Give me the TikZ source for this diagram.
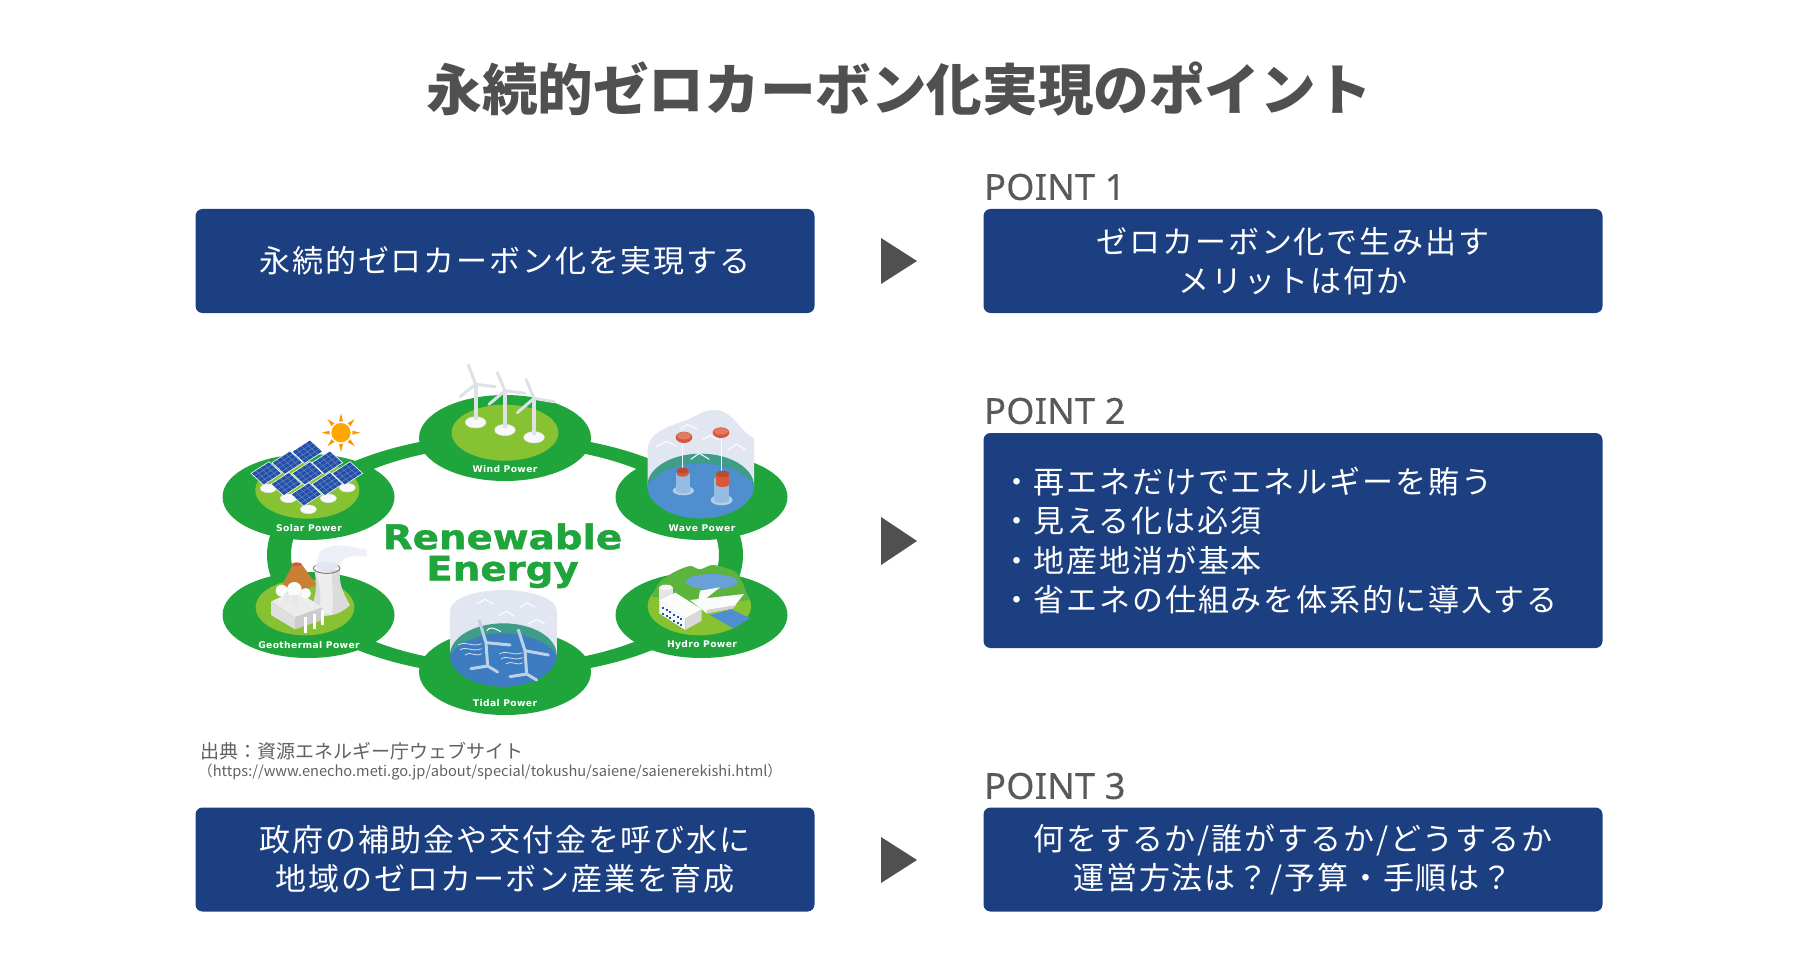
\documentclass[tikz,border=0pt]{standalone}
\usepackage{fontspec}
\usepackage{xcolor}
\setmainfont{Noto Sans CJK JP}
\newfontfamily\spacedcjk[LetterSpace=6]{Noto Sans CJK JP}
\newfontfamily\tilefont[LetterSpace=4]{DejaVu Sans}
\newfontfamily\bannerfont[FakeBold=1.2]{DejaVu Sans Bold}
\newfontfamily\pointfont[FakeBold=0.5,LetterSpace=1]{Noto Sans}
\usetikzlibrary{calc,positioning}
\definecolor{navybox}{HTML}{1B3F80}
\definecolor{inkgray}{HTML}{505050}
\definecolor{ringgreen}{HTML}{20A53C}
\definecolor{limegreen}{HTML}{86C232}
\definecolor{hillgreen}{HTML}{5DB43C}
\definecolor{millgray}{HTML}{DEE2E7}
\definecolor{mistblue}{HTML}{E1E6F1}
\definecolor{waterblue}{HTML}{4F8FD0}
\definecolor{deepblue}{HTML}{3D7CC0}
\definecolor{waterteal}{HTML}{3F9C88}
\definecolor{panelblue}{HTML}{2350A8}
\definecolor{buoyred}{HTML}{D8593A}
\tikzset{
	pointbox/.style={fill=navybox,rounded corners=7pt,text=white,inner sep=0pt,minimum width=619pt,align=center,font=\fontsize{31}{39.5}\selectfont\spacedcjk},
	pointhead/.style={anchor=west,inner sep=0pt,text=inkgray!95,font=\fontsize{36}{38}\selectfont\pointfont},
	tilelabel/.style={text=white,inner sep=0pt,font=\fontsize{9.2}{10}\selectfont\tilefont\bfseries},
	crop/.style 2 args={shift={(#1,#2)},x=0.33333pt,y=-0.33333pt},
	millbase/.style={fill=white!80!millgray,draw=millgray,line width=0.6pt},
	blade/.style={draw=millgray,line width=3pt,line cap=round},
	chevron/.style={draw=white,line width=1pt},
	arrowmark/.style={fill=inkgray}
}
\newcommand{\solarpanel}[2]{
	\begin{scope}[shift={(#1,#2)}]
		\fill[panelblue] (-44,0) -- (10,-35) -- (48,0) -- (-6,35) -- cycle;
		\foreach \t in {0.25,0.5,0.75} {
			\draw[white!35!panelblue,line width=0.4pt] ($(-44,0)!\t!(10,-35)$) -- ($(-6,35)!\t!(48,0)$);
			\draw[white!35!panelblue,line width=0.4pt] ($(-44,0)!\t!(-6,35)$) -- ($(10,-35)!\t!(48,0)$);
		}
		\draw[white,line width=0.6pt] (-44,0) -- (10,-35) -- (48,0) -- (-6,35) -- cycle;
	\end{scope}
}
\newcommand{\windmill}[9]{
	\fill[millbase] (#1,#3+6) ellipse [x radius=31,y radius=17];
	\draw[millgray,line width=4pt] (#1,#2) -- (#1,#3);
	\draw[blade] (#1,#2) -- (#4,#5);
	\draw[blade] (#1,#2) -- (#6,#7);
	\draw[blade] (#1,#2) -- (#8,#9);
}
\newcommand{\tidalmill}[8]{
	\draw[white!65!deepblue,line width=3pt] (#1,#2) -- (#1+5,#2+70);
	\draw[white!65!deepblue,line width=3pt,line cap=round] (#1+5,#2+70) -- (#1-45,#2+78);
	\draw[white!65!deepblue,line width=3pt,line cap=round] (#1+5,#2+70) -- (#1+35,#2+88);
	\draw[white!65!deepblue,line width=3pt,line cap=round] (#1,#2) -- (#3,#4);
	\draw[white!65!deepblue,line width=3pt,line cap=round] (#1,#2) -- (#5,#6);
	\draw[white!75!deepblue,line width=0.8pt] (#7,#8) .. controls (#7+25,#8-14) and (#7+40,#8+8) .. (#7+70,#8-4);
	\draw[white!75!deepblue,line width=0.8pt] (#7+5,#8+15) .. controls (#7+25,#8+1) and (#7+40,#8+23) .. (#7+70,#8+11);
	\draw[white!75!deepblue,line width=0.8pt] (#7+20,#8+30) .. controls (#7+35,#8+16) and (#7+50,#8+38) .. (#7+70,#8+26);
}
\begin{document}
\begin{tikzpicture}[x=1pt,y=-1pt]
	\useasboundingbox (0,0) rectangle (1800,960);
	\node[inner sep=0pt,text=inkgray,font=\fontsize{55.6}{60}\selectfont\bfseries] (title) at (899,89) {永続的ゼロカーボン化実現のポイント};
	% left column
	\node[pointbox,minimum height=104pt] (goalbox) at (505,261) {永続的ゼロカーボン化を実現する};
	\node[pointbox,minimum height=104pt] (fundbox) at (505,859.5) {政府の補助金や交付金を呼び水に\\地域のゼロカーボン産業を育成};
	\node[anchor=west,inner sep=0pt,text=inkgray!90,font=\fontsize{19}{22}\selectfont] (source) at (200,751) {出典：資源エネルギー庁ウェブサイト};
	\node[anchor=west,inner sep=0pt,text=inkgray!90,font=\fontsize{14.6}{18}\selectfont] (sourceurl) at (198,772) {（https://www.enecho.meti.go.jp/about/special/tokushu/saiene/saienerekishi.html）};
	% right column
	\node[pointhead] (headone) at (984,187) {POINT 1};
	\node[pointbox,minimum height=104pt] (boxone) at (1293,261) {ゼロカーボン化で生み出す\\メリットは何か};
	\node[pointhead] (headtwo) at (984,411) {POINT 2};
	\node[pointbox,minimum height=215pt,text width=584pt,align=left] (boxtwo) at (1293,540.5) {・再エネだけでエネルギーを賄う\\・見える化は必須\\・地産地消が基本\\・省エネの仕組みを体系的に導入する};
	\node[pointhead] (headthree) at (984,786) {POINT 3};
	\node[pointbox,minimum height=104pt] (boxthree) at (1293,859.5) {何をするか/誰がするか/どうするか\\運営方法は？/予算・手順は？};
	% triangles
	\fill[arrowmark] (881,238) -- (917,261) -- (881,284) -- cycle;
	\fill[arrowmark] (881,517) -- (917,541) -- (881,565) -- cycle;
	\fill[arrowmark] (881,837) -- (917,860) -- (881,883) -- cycle;
	% ring and discs
	\fill[ringgreen,even odd rule] (505,555) ellipse [x radius=238,y radius=121] (505,555) ellipse [x radius=214,y radius=109];
	\fill[ringgreen] (505,438) ellipse [x radius=86,y radius=43];
	\fill[ringgreen] (308.5,497) ellipse [x radius=86,y radius=43];
	\fill[ringgreen] (701.5,497) ellipse [x radius=86,y radius=43];
	\fill[ringgreen] (308.5,615) ellipse [x radius=86,y radius=43];
	\fill[ringgreen] (701.5,615) ellipse [x radius=86,y radius=43];
	\fill[ringgreen] (505,672) ellipse [x radius=86,y radius=43];
	% solar
	\begin{scope}[crop={215}{410}]
		\fill[limegreen] (277,240) ellipse [x radius=156,y radius=86];
		\foreach \r in {0,45,...,315} {
			\fill[orange!85!yellow] ($(378,68)+(\r:34)+(\r+90:6)$) -- ($(378,68)+(\r:58)$) -- ($(378,68)+(\r:34)+(\r-90:6)$) -- cycle;
		}
		\fill[orange!70!yellow] (378,68) circle (29);
		\fill[millbase] (160,235) ellipse [x radius=24,y radius=13];
		\fill[millbase] (220,265) ellipse [x radius=24,y radius=13];
		\fill[millbase] (280,298) ellipse [x radius=24,y radius=13];
		\fill[millbase] (340,265) ellipse [x radius=24,y radius=13];
		\fill[millbase] (397,233) ellipse [x radius=24,y radius=13];
		\solarpanel{275}{125}
		\solarpanel{215}{158}
		\solarpanel{335}{158}
		\solarpanel{152}{190}
		\solarpanel{275}{190}
		\solarpanel{395}{190}
		\solarpanel{212}{222}
		\solarpanel{335}{222}
		\solarpanel{272}{253}
	\end{scope}
	% wind
	\begin{scope}[crop={410}{360}]
		\fill[limegreen] (285,218) ellipse [x radius=160,y radius=84];
		\windmill{197}{73}{181}{175}{15}{255}{80}{150}{110}
		\windmill{285}{92}{204}{262}{38}{345}{100}{237}{133}
		\windmill{372}{115}{226}{348}{58}{432}{125}{322}{158}
	\end{scope}
	% wave
	\begin{scope}[crop={610}{400}]
		\fill[mistblue] (113,258) -- (113,150) .. controls (113,100) and (170,80) .. (225,62) .. controls (260,50) and (280,28) .. (315,30) .. controls (370,32) and (385,90) .. (432,115) -- (432,258) -- cycle;
		\begin{scope}
			\clip (272,258) ellipse [x radius=160,y radius=97];
			\fill[waterteal] (100,150) rectangle (440,360);
			\fill[waterblue] (272,298) ellipse [x radius=172,y radius=108];
		\end{scope}
		\draw[white!85!millgray,line width=0.8pt] (218,112) -- (218,215);
		\draw[white!85!millgray,line width=0.8pt] (335,98) -- (335,225);
		\fill[white!55!waterblue] (220,272) ellipse [x radius=32,y radius=14];
		\fill[white!40!waterblue] (198,218) rectangle (240,272);
		\fill[white!40!waterblue] (220,272) ellipse [x radius=21,y radius=8];
		\fill[white!55!waterblue] (335,300) ellipse [x radius=33,y radius=16];
		\fill[white!40!waterblue] (312,235) rectangle (358,300);
		\fill[white!40!waterblue] (335,300) ellipse [x radius=23,y radius=8];
		\fill[buoyred] (200,212) rectangle (236,222);
		\fill[buoyred] (218,222) ellipse [x radius=18,y radius=8];
		\fill[buoyred!85!black] (218,212) ellipse [x radius=18,y radius=9];
		\fill[buoyred] (318,222) rectangle (358,252);
		\fill[buoyred] (338,252) ellipse [x radius=20,y radius=9];
		\fill[buoyred!85!black] (338,222) ellipse [x radius=20,y radius=10];
		\fill[buoyred] (222,112) ellipse [x radius=25,y radius=17];
		\fill[buoyred!80!white] (222,107) ellipse [x radius=21,y radius=11];
		\fill[buoyred] (333,98) ellipse [x radius=25,y radius=16];
		\fill[buoyred!80!white] (333,94) ellipse [x radius=21,y radius=10];
		\draw[chevron] (138,140) -- (170,124) -- (200,138);
		\draw[chevron] (212,88) -- (232,73) -- (262,88);
		\draw[chevron] (278,120) -- (300,106) -- (325,120);
		\draw[chevron] (352,152) -- (380,132) -- (408,150);
		\draw[chevron] (242,178) -- (268,160) -- (298,178);
	\end{scope}
	% geothermal
	\begin{scope}[crop={215}{530}]
		\fill[limegreen] (270,232) ellipse [x radius=148,y radius=84];
		\fill[brown!85!orange] (195,178) -- (235,100) -- (258,100) -- (305,165) -- (250,185) -- cycle;
		\fill[buoyred] (245,103) ellipse [x radius=15,y radius=6];
		\fill[mistblue!60!white] plot[smooth] coordinates {(305,100) (318,62) (365,46) (420,52) (455,60)} -- plot[smooth] coordinates {(455,80) (420,78) (390,85) (372,112)} -- cycle;
		\fill[gray!28] (297,118) .. controls (310,170) and (300,220) .. (280,240) .. controls (310,268) and (370,262) .. (405,225) .. controls (385,190) and (370,160) .. (375,118) -- cycle;
		\fill[gray!14] (300,118) .. controls (316,170) and (322,210) .. (310,250) -- (350,255) .. controls (358,200) and (350,160) .. (350,125) -- cycle;
		\draw[gray,line width=1pt] (335,115) ellipse [x radius=40,y radius=15];
		\fill[mistblue] (335,108) ellipse [x radius=34,y radius=12];
		\fill[gray!15] (168,215) -- (240,180) -- (322,232) -- (240,262) -- cycle;
		\fill[gray!25] (168,215) -- (240,262) -- (240,298) -- (168,255) -- cycle;
		\fill[gray!40] (240,262) -- (322,232) -- (322,270) -- (240,298) -- cycle;
		\draw[white,line width=2.4pt] (272,262) -- (272,308);
		\draw[white,line width=2.4pt] (298,252) -- (298,298);
		\draw[white,line width=2.4pt] (322,240) -- (322,285);
		\fill[white!85!mistblue] (200,182) circle (18);
		\fill[white!85!mistblue] (238,178) circle (22);
		\fill[white!85!mistblue] (272,190) circle (16);
		\fill[gray!18] (206,190) rectangle (222,220);
		\fill[gray!18] (232,195) rectangle (250,228);
	\end{scope}
	% hydro
	\begin{scope}[crop={610}{550}]
		\fill[limegreen] (268,168) ellipse [x radius=155,y radius=88];
		\fill[hillgreen] plot[smooth] coordinates {(125,140) (150,95) (195,65) (240,48) (270,58) (310,45) (375,65) (398,100) (418,150)} -- (300,165) -- cycle;
		\fill[waterblue!85!white] (305,95) ellipse [x radius=77,y radius=23];
		\fill[white!85!millgray] (270,122) -- (330,112) -- (285,148) -- (265,150) -- cycle;
		\fill[white!85!millgray] (240,150) -- (402,132) -- (368,175) -- (290,190) -- cycle;
		\fill[gray!35] (290,190) -- (368,175) -- (380,165) -- (290,180) -- cycle;
		\fill[waterblue] (300,195) -- (365,178) -- (420,205) -- (370,235) -- cycle;
		\fill[gray!20] (148,112) rectangle (188,152);
		\fill[gray!8] (168,112) ellipse [x radius=20,y radius=8];
		\fill[white!90!millgray] (148,152) -- (196,128) -- (275,178) -- (226,205) -- cycle;
		\fill[white!80!millgray] (148,152) -- (226,205) -- (226,240) -- (148,190) -- cycle;
		\fill[gray!30] (226,205) -- (275,178) -- (275,212) -- (226,240) -- cycle;
		\foreach \k in {0,1,...,5} {
			\fill[panelblue] (156+\k*11,170+\k*7) rectangle +(6,6);
			\fill[panelblue] (156+\k*11,188+\k*7) rectangle +(6,6);
		}
	\end{scope}
	% tidal
	\begin{scope}[crop={410}{580}]
		\fill[mistblue] (280,92) ellipse [x radius=160,y radius=62];
		\fill[mistblue] (120,92) rectangle (440,225);
		\draw[chevron] (200,72) -- (225,58) -- (250,72);
		\draw[chevron] (330,82) -- (352,68) -- (375,82);
		\draw[chevron] (265,108) -- (290,93) -- (312,108);
		\draw[chevron] (355,132) -- (380,118) -- (405,132);
		\begin{scope}
			\clip (280,225) ellipse [x radius=160,y radius=95];
			\fill[waterteal] (110,120) rectangle (450,330);
			\fill[deepblue] (280,265) ellipse [x radius=172,y radius=105];
		\end{scope}
		\draw[white,line width=1pt] (230,152) .. controls (240,140) and (250,142) .. (272,155);
		\tidalmill{228}{188}{208}{122}{300}{195}{145}{195}
		\tidalmill{345}{212}{325}{150}{415}{225}{268}{222}
	\end{scope}
	% tile labels
	\node[tilelabel] (windlabel) at (505,469) {Wind Power};
	\node[tilelabel] (solarlabel) at (309,528) {Solar Power};
	\node[tilelabel] (wavelabel) at (702,528) {Wave Power};
	\node[tilelabel] (geolabel) at (309,645) {Geothermal Power};
	\node[tilelabel] (hydrolabel) at (702,645) {Hydro Power};
	\node[tilelabel] (tidallabel) at (505,703) {Tidal Power};
	\node[inner sep=0pt,text=ringgreen,xscale=1.14,font=\fontsize{34}{36}\selectfont\bannerfont] (bannerone) at (502.5,536.5) {Renewable};
	\node[inner sep=0pt,text=ringgreen,xscale=1.14,font=\fontsize{34}{36}\selectfont\bannerfont] (bannertwo) at (502.5,572) {Energy};
\end{tikzpicture}
\end{document}
